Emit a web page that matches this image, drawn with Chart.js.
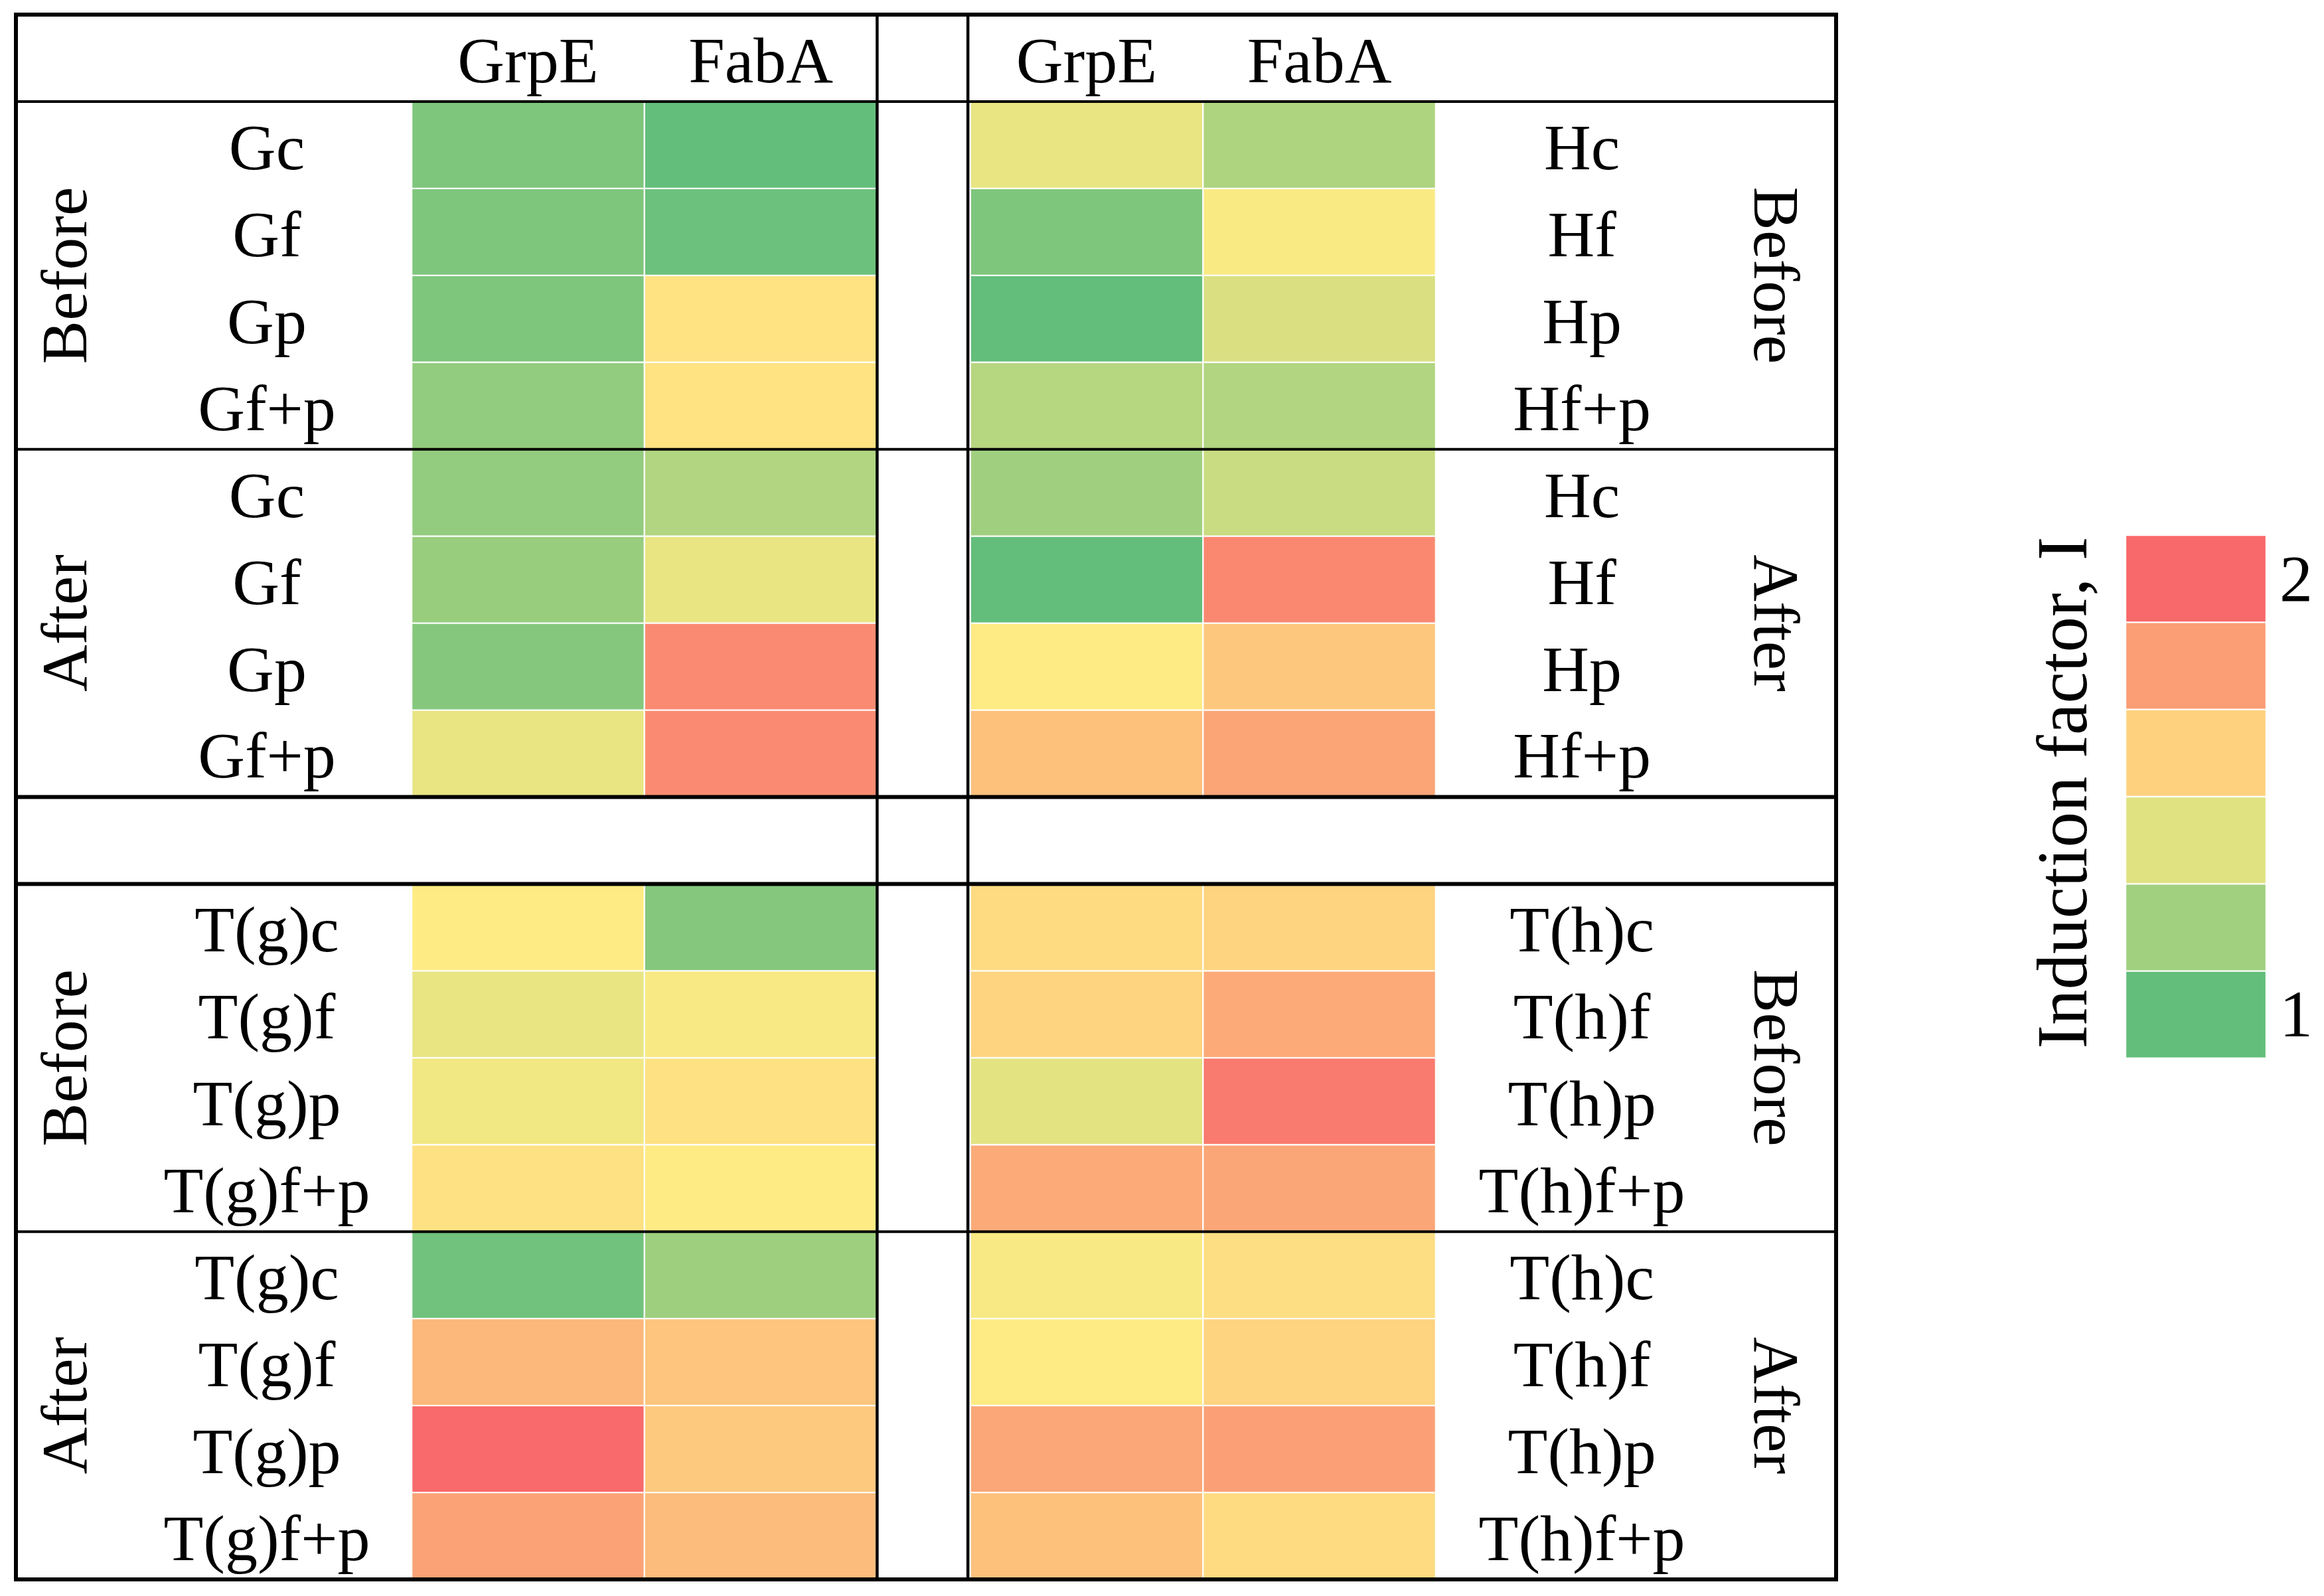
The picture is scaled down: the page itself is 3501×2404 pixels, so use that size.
<!DOCTYPE html>
<html><head><meta charset="utf-8">
<script src="https://cdn.jsdelivr.net/npm/chart.js@4.4.1/dist/chart.umd.min.js"></script>
<style>
html,body{margin:0;padding:0;background:#fff;width:3501px;height:2404px;overflow:hidden}
#main{position:absolute;left:0;top:0}
#legend{position:absolute;left:2950px;top:700px}
</style></head><body>
<canvas id="main" width="2800" height="2404"></canvas>
<canvas id="legend" width="551" height="1000"></canvas>
<script>
// ---------------- DATA ----------------
const genes = ['GrpE', 'FabA'];
const phases = ['Before', 'After'];
const rowsG  = ['Gc', 'Gf', 'Gp', 'Gf+p'];
const rowsH  = ['Hc', 'Hf', 'Hp', 'Hf+p'];
const rowsTg = ['T(g)c', 'T(g)f', 'T(g)p', 'T(g)f+p'];
const rowsTh = ['T(h)c', 'T(h)f', 'T(h)p', 'T(h)f+p'];
// values: 4 "Before" rows then 4 "After" rows
const G_GrpE  = [1.09, 1.09, 1.09, 1.15, 1.155, 1.17, 1.11, 1.43];
const G_FabA  = [1.00, 1.03, 1.535, 1.535, 1.25, 1.43, 1.87, 1.87];
const H_GrpE  = [1.43, 1.09, 1.00, 1.27, 1.195, 1.00, 1.50, 1.66];
const H_FabA  = [1.24, 1.484, 1.38, 1.25, 1.33, 1.88, 1.635, 1.77];
const Tg_GrpE = [1.50, 1.43, 1.455, 1.54, 1.045, 1.70, 1.995, 1.78];
const Tg_FabA = [1.105, 1.48, 1.54, 1.50, 1.19, 1.645, 1.63, 1.68];
const Th_GrpE = [1.56, 1.59, 1.41, 1.75, 1.48, 1.50, 1.76, 1.66];
const Th_FabA = [1.59, 1.75, 1.935, 1.765, 1.55, 1.59, 1.79, 1.56];
const legendValues = [1, 1.2, 1.4, 1.6, 1.8, 2];
const legendTicks = ['1', '2'];
const legendTitle = 'Induction factor, I';

// ---------------- STYLE / LAYOUT ----------------
const FONT = "'Liberation Serif','Times New Roman',serif";
const FS = 98;
const STOPS = [[1, [99, 190, 123]], [1.5, [255, 235, 132]], [2, [248, 105, 107]]];
function colorFor(v) {
  if (v <= STOPS[0][0]) return 'rgb(' + STOPS[0][1].join(',') + ')';
  for (let i = 1; i < STOPS.length; i++) {
    if (v <= STOPS[i][0]) {
      const [a, ca] = STOPS[i - 1], [b, cb] = STOPS[i];
      const t = (v - a) / (b - a);
      const c = ca.map((x, k) => Math.round(x + (cb[k] - x) * t));
      return 'rgb(' + c.join(',') + ')';
    }
  }
  return 'rgb(' + STOPS[STOPS.length - 1][1].join(',') + ')';
}
const COL_X = [[0, 1], [1, 2], [2.4, 3.4], [3.4, 4.4]];
const BLOCK_START = [0, 9];
const SIDE_OFFSET = [0, 2.4];

const quadrants = [
  { rows: rowsG,  side: 0, block: 0, cols: [G_GrpE, G_FabA] },
  { rows: rowsH,  side: 1, block: 0, cols: [H_GrpE, H_FabA] },
  { rows: rowsTg, side: 0, block: 1, cols: [Tg_GrpE, Tg_FabA] },
  { rows: rowsTh, side: 1, block: 1, cols: [Th_GrpE, Th_FabA] }
];

const datasets = [];
quadrants.forEach(q => {
  q.cols.forEach((vals, j) => {
    const cx = COL_X[q.side * 2 + j];
    datasets.push({
      data: vals.map((v, i) => ({ x: cx.slice(), y: BLOCK_START[q.block] + i + 0.5 })),
      backgroundColor: vals.map(colorFor)
    });
  });
});

function drawText(ctx, txt, px, py, size, rot) {
  ctx.save();
  ctx.translate(px, py);
  if (rot) ctx.rotate(rot);
  ctx.font = size + 'px ' + FONT;
  ctx.fillStyle = '#000';
  ctx.textAlign = 'center';
  ctx.textBaseline = 'alphabetic';
  ctx.fillText(txt, 0, 0.331 * size + (rot ? 0 : 4));
  ctx.restore();
}

const tablePlugin = {
  id: 'tableDecor',
  afterDatasetsDraw(chart) {
    const { ctx, chartArea: ca, scales: { x, y } } = chart;
    ctx.save();
    ctx.strokeStyle = '#000';
    ctx.lineCap = 'butt';
    const h = (yv, w) => { const py = y.getPixelForValue(yv); ctx.lineWidth = w; ctx.beginPath(); ctx.moveTo(ca.left, py); ctx.lineTo(ca.right, py); ctx.stroke(); };
    const v = (xv, w) => { const px = x.getPixelForValue(xv); ctx.lineWidth = w; ctx.beginPath(); ctx.moveTo(px, ca.top); ctx.lineTo(px, ca.bottom); ctx.stroke(); };
    h(0, 4); h(4, 4); h(8, 6); h(9, 6); h(13, 4);
    v(2.0, 4.5); v(2.39, 4.5);
    ctx.lineWidth = 6;
    ctx.strokeRect(ca.left, ca.top, ca.right - ca.left, ca.bottom - ca.top);
    ctx.restore();

    // column headers
    SIDE_OFFSET.forEach(off => genes.forEach((g, j) => {
      drawText(ctx, g, x.getPixelForValue(off + j + 0.5), y.getPixelForValue(-0.5), FS, 0);
    }));
    // row labels and group labels
    quadrants.forEach(q => {
      const lx = q.side === 0 ? -0.622 : 5.028;
      const gx = q.side === 0 ? -1.489 : 5.861;
      phases.forEach((p, pi) => {
        q.rows.forEach((r, i) => {
          const yv = BLOCK_START[q.block] + pi * 4 + i + 0.5;
          drawText(ctx, r, x.getPixelForValue(lx), y.getPixelForValue(yv), FS, 0);
        });
        const yc = y.getPixelForValue(BLOCK_START[q.block] + pi * 4 + 2);
        drawText(ctx, p, x.getPixelForValue(gx), yc, FS, q.side === 0 ? -Math.PI / 2 : Math.PI / 2);
      });
    });
  }
};

new Chart(document.getElementById('main'), {
  type: 'bar',
  data: { datasets },
  options: {
    indexAxis: 'y',
    responsive: false,
    animation: false,
    devicePixelRatio: 1,
    layout: { padding: { left: 24, right: 34, top: 22, bottom: 25 } },
    plugins: { legend: { display: false }, tooltip: { enabled: false } },
    scales: {
      x: { type: 'linear', min: -1.7, max: 6.12, display: false, offset: false },
      y: { type: 'linear', min: -1, max: 17, reverse: true, display: false, offset: false, ticks: { stepSize: 1 } }
    },
    datasets: { bar: { grouped: false, categoryPercentage: 1, barPercentage: 1, borderColor: '#fff', borderWidth: 1.5, borderSkipped: false } }
  },
  plugins: [tablePlugin]
});

const legendPlugin = {
  id: 'legendDecor',
  afterDatasetsDraw(chart) {
    const { ctx, chartArea: ca, scales: { y } } = chart;
    ctx.save();
    ctx.font = '100px ' + FONT;
    ctx.fillStyle = '#000';
    ctx.textAlign = 'left';
    ctx.textBaseline = 'alphabetic';
    ctx.fillText(legendTicks[0], ca.right + 20, y.getPixelForValue(0.5) + 33);
    ctx.fillText(legendTicks[1], ca.right + 20, y.getPixelForValue(legendValues.length - 0.5) + 33);
    ctx.restore();
    drawText(ctx, legendTitle, ca.left - 94, (ca.top + ca.bottom) / 2 - 6, 107, -Math.PI / 2);
  }
};

new Chart(document.getElementById('legend'), {
  type: 'bar',
  data: {
    labels: [''],
    datasets: legendValues.map(v => ({ data: [1], backgroundColor: colorFor(v) }))
  },
  options: {
    responsive: false,
    animation: false,
    devicePixelRatio: 1,
    layout: { padding: { left: 252, right: 87, top: 106, bottom: 106 } },
    plugins: { legend: { display: false }, tooltip: { enabled: false } },
    scales: {
      x: { stacked: true, display: false },
      y: { stacked: true, display: false, min: 0, max: legendValues.length }
    },
    datasets: { bar: { categoryPercentage: 1, barPercentage: 1, borderColor: '#fff', borderWidth: 1.5, borderSkipped: false } }
  },
  plugins: [legendPlugin]
});
</script>
</body></html>
